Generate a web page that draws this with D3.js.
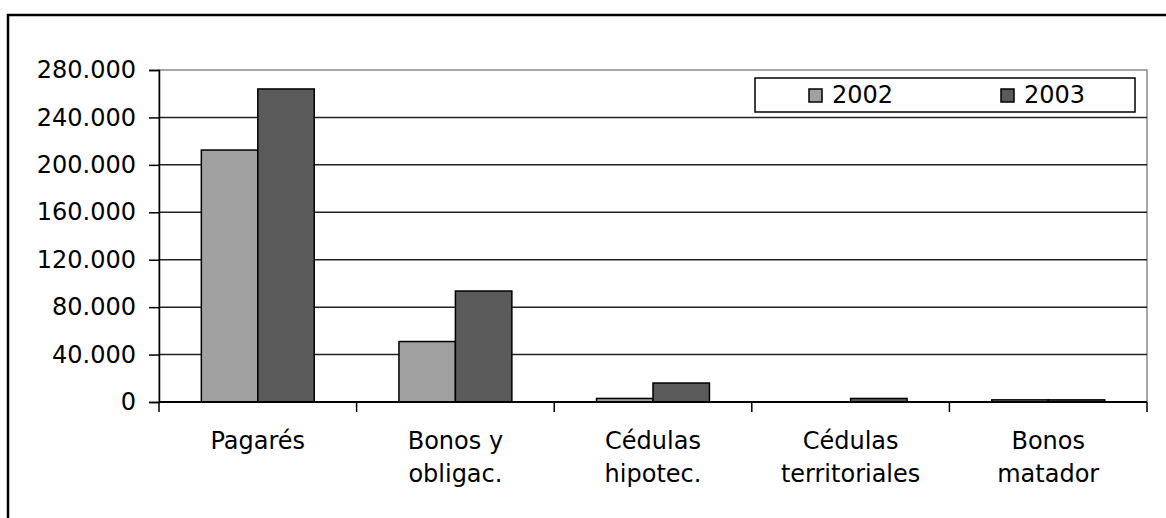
<!DOCTYPE html>
<html>
<head>
<meta charset="utf-8">
<script src="https://cdn.jsdelivr.net/npm/d3@7"></script>
<style>
  html, body { margin: 0; padding: 0; background: #fff; }
  svg { display: block; }
  text { font-family: "DejaVu Sans", Verdana, sans-serif; fill: #000; }
</style>
</head>
<body>
<svg id="chart" width="1166" height="518"></svg>
<script>
const categories = ["Pagarés", "Bonos y\nobligac.", "Cédulas\nhipotec.", "Cédulas\nterritoriales", "Bonos\nmatador"];
const years = ["2002", "2003"];
const values2002 = [212500, 51000, 3000, 0, 1800];
const values2003 = [264000, 93600, 16000, 3000, 1800];
const yTicks = [0, 40000, 80000, 120000, 160000, 200000, 240000, 280000];
const colors = { "2002": "#a0a0a0", "2003": "#5a5a5a" };

const svg = d3.select("#chart");
const locale = d3.formatLocale({ decimal: ",", thousands: ".", grouping: [3], currency: ["", ""] });
const fmt = locale.format(",d");

const plot = { left: 159, right: 1147, top: 70, bottom: 402 };
const FS = 24;

const x = d3.scaleBand().domain(categories).range([plot.left, plot.right]).paddingInner(0).paddingOuter(0);
const x1 = d3.scaleBand().domain(years).range([0, x.bandwidth()]).paddingInner(0).paddingOuter(0.75);
const y = d3.scaleLinear().domain([0, 280000]).range([plot.bottom, plot.top]);

// outer chart border
svg.append("path")
  .attr("d", "M8,530V15H1175")
  .attr("fill", "none").attr("stroke", "#000").attr("stroke-width", 2.5);

// plot area border (gray)
svg.append("rect")
  .attr("x", plot.left).attr("y", plot.top)
  .attr("width", plot.right - plot.left).attr("height", plot.bottom - plot.top)
  .attr("fill", "none").attr("stroke", "#8a8a8a").attr("stroke-width", 1.5);

// gridlines
svg.append("g").selectAll("line")
  .data(yTicks.filter(d => d > 0 && d < 280000))
  .join("line")
  .attr("x1", plot.left).attr("x2", plot.right)
  .attr("y1", d => y(d)).attr("y2", d => y(d))
  .attr("stroke", "#222").attr("stroke-width", 1.5);

// bars
const data = categories.map((c, i) => ({ cat: c, vals: [
  { year: "2002", v: values2002[i] },
  { year: "2003", v: values2003[i] }
]}));

const groups = svg.append("g").selectAll("g")
  .data(data).join("g")
  .attr("transform", d => `translate(${x(d.cat)},0)`);

groups.selectAll("rect")
  .data(d => d.vals.filter(v => v.v > 0))
  .join("rect")
  .attr("x", d => x1(d.year))
  .attr("width", x1.bandwidth())
  .attr("y", d => y(d.v))
  .attr("height", d => y(0) - y(d.v))
  .attr("fill", d => colors[d.year])
  .attr("stroke", "#000").attr("stroke-width", 1.5);

// y axis
const yAxis = d3.axisLeft(y).tickValues(yTicks).tickFormat(fmt).tickSize(10).tickPadding(13);
const gy = svg.append("g").attr("transform", `translate(${plot.left},0)`).call(yAxis);
gy.select(".domain").attr("stroke", "#000").attr("stroke-width", 1.5);
gy.selectAll(".tick line").attr("stroke", "#000").attr("stroke-width", 1.5);
gy.selectAll(".tick text").attr("font-size", FS).attr("font-family", "DejaVu Sans, Verdana, sans-serif").attr("fill", "#000");

// x axis line + ticks at category boundaries
const boundaries = categories.map(c => x(c)).concat([plot.right]);
svg.append("line")
  .attr("x1", plot.left).attr("x2", plot.right)
  .attr("y1", y(0)).attr("y2", y(0))
  .attr("stroke", "#000").attr("stroke-width", 1.8);
svg.append("g").selectAll("line")
  .data(boundaries).join("line")
  .attr("x1", d => d).attr("x2", d => d)
  .attr("y1", y(0)).attr("y2", y(0) + 10)
  .attr("stroke", "#000").attr("stroke-width", 1.5);

// category labels
const labels = svg.append("g").selectAll("text")
  .data(categories).join("text")
  .attr("text-anchor", "middle")
  .attr("font-size", FS)
  .attr("x", d => x(d) + x.bandwidth() / 2)
  .attr("y", 449);
labels.each(function(d) {
  const t = d3.select(this);
  const cx = x(d) + x.bandwidth() / 2;
  d.split("\n").forEach((line, i) => {
    t.append("tspan").attr("x", cx).attr("dy", i === 0 ? 0 : 33).text(line);
  });
});

// legend
const legend = svg.append("g");
legend.append("rect")
  .attr("x", 755).attr("y", 78).attr("width", 380).attr("height", 34)
  .attr("fill", "#fff").attr("stroke", "#000").attr("stroke-width", 1.5);
const legendX = { "2002": 809, "2003": 1001 };
years.forEach(yr => {
  legend.append("rect")
    .attr("x", legendX[yr]).attr("y", 89).attr("width", 13).attr("height", 13)
    .attr("fill", colors[yr]).attr("stroke", "#000").attr("stroke-width", 1.5);
  legend.append("text")
    .attr("x", legendX[yr] + 23).attr("y", 103)
    .attr("font-size", FS)
    .text(yr);
});
</script>
</body>
</html>
